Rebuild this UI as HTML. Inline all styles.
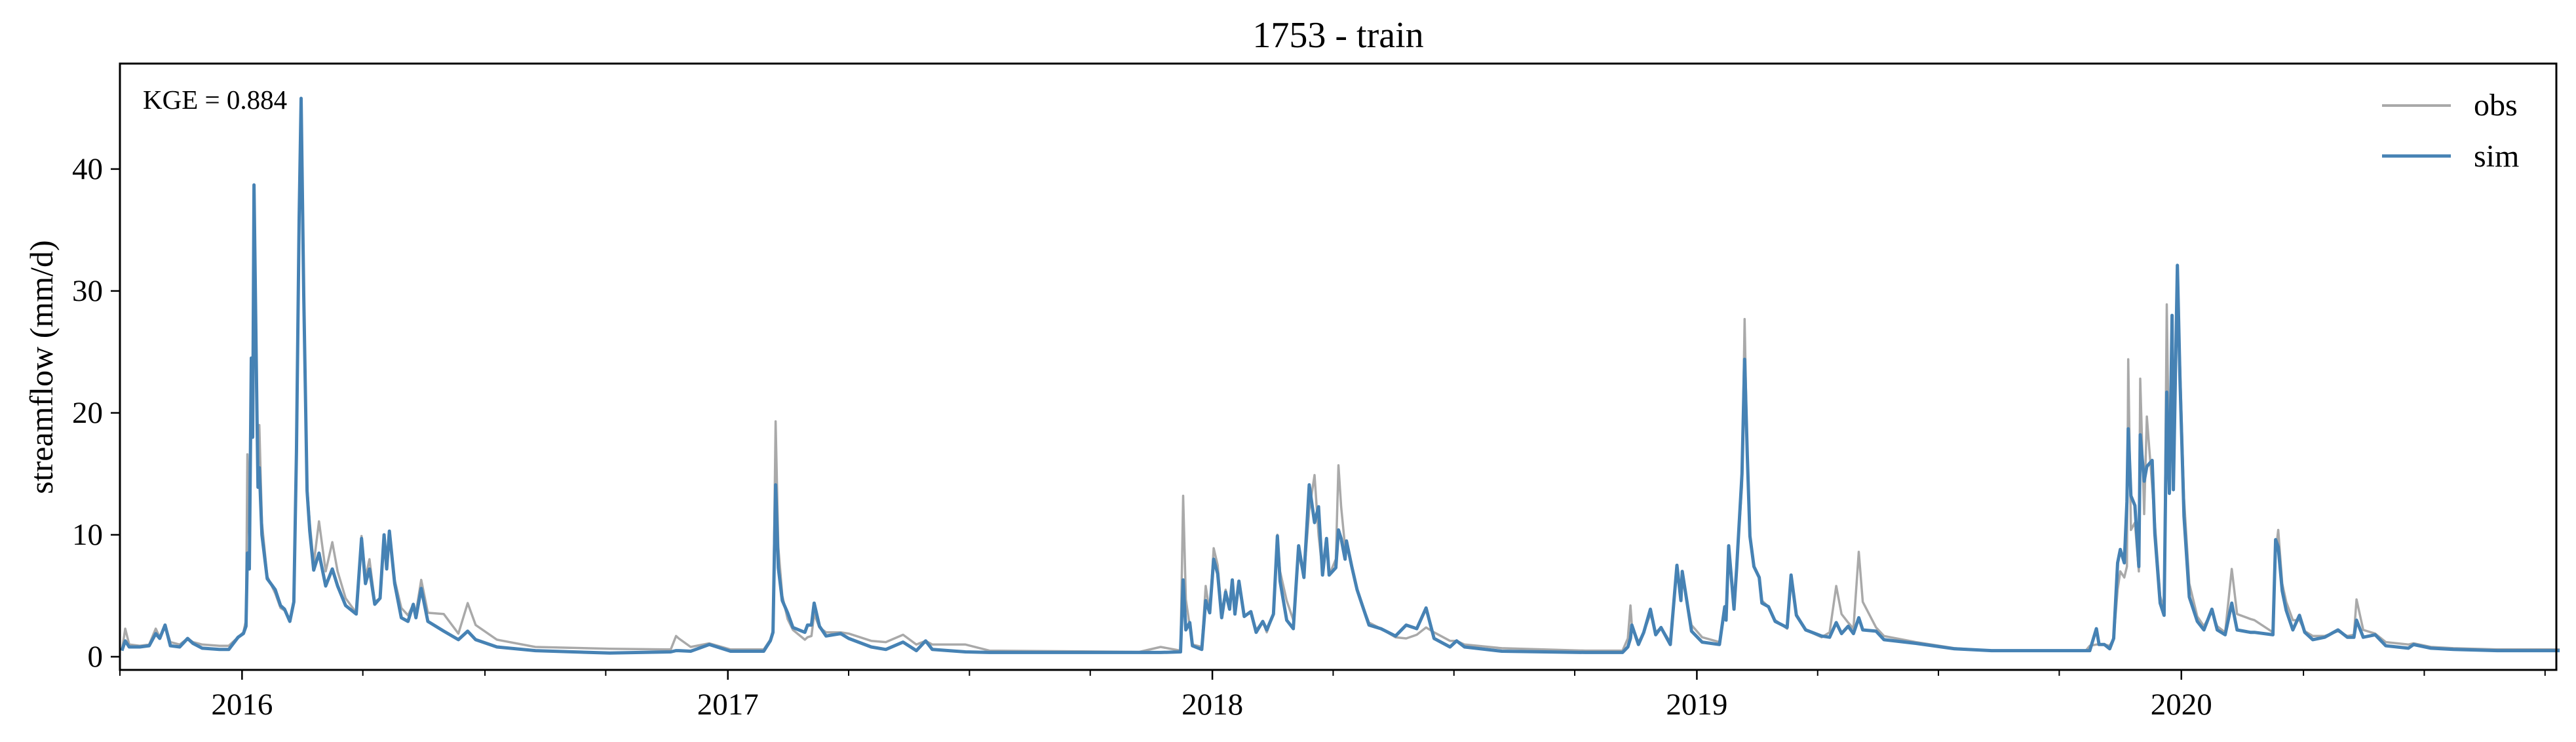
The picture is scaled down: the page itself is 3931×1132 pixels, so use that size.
<!DOCTYPE html>
<html><head><meta charset="utf-8"><style>
html,body{margin:0;padding:0;background:#fff;}
svg{display:block;font-family:"Liberation Serif","DejaVu Serif",serif;}
</style></head><body>
<svg id="chart" width="3931" height="1132" viewBox="0 0 3931 1132" xmlns="http://www.w3.org/2000/svg">
<rect width="3931" height="1132" fill="#fff"/>
<text x="2042" y="72" font-size="56" text-anchor="middle">1753 - train</text>
<text transform="translate(80,560) rotate(-90)" font-size="50" text-anchor="middle">streamflow (mm/d)</text>
<g id="plot"></g>
<g id="axes"></g>
<text x="218" y="166" font-size="41">KGE = 0.884</text>
<g>
  <line x1="3635" y1="161" x2="3740" y2="161" stroke="#a9a9a9" stroke-width="4"/>
  <text x="3775" y="176" font-size="48">obs</text>
  <line x1="3635" y1="238" x2="3740" y2="238" stroke="#4682b4" stroke-width="5"/>
  <text x="3775" y="254" font-size="48">sim</text>
</g>
</svg>
<script>
// day offsets from 2015-10-01
const days=[1.5,4,7,15,22,27,30,34,38,45,51,55,62,75,82,89,93,95,96,97.5,99,100,101,103,104,105,107,111,117,121,124,128,131,133,135,136.5,138.5,141,143,146,150,155,160,164,170,178,182,185,188,192,196,199,201,203,207,212,217,221,223,227,232,244,255,262,268,284,313,369,415,419,421,430,444,460,485,490,492,494,496,499,503,507,516,518,521,523,527,532,543,549,566,577,590,600,607,612,637,655,768,784,799,801,803,806,808,815,818,821,824,827,830,833,836,838,840,843,847,852,856,861,864,869,872,874,879,884,888,892,896,900,903,906,909,911,916,918,920,923,924,928,932,936,941,950,961,969,977,984,990,1002,1007,1013,1041,1104,1132,1136,1138,1139,1144,1148,1153,1157,1161,1168,1173,1176,1177,1184,1192,1205,1209,1210,1212,1216,1218,1222,1224,1226,1228,1231,1235,1237,1242,1247,1256,1259,1263,1270,1282,1288,1293,1297,1302,1306,1310,1313,1323,1329,1353,1382,1410,1481,1484,1489,1491,1495,1499,1502,1505,1507,1510,1512,1513,1515,1518,1521,1522,1525,1527,1531,1533,1537,1540,1542,1544,1546,1547,1550,1552,1555,1559,1565,1570,1576,1580,1586,1591,1595,1605,1608,1622,1624,1626,1629,1632,1637,1642,1646,1652,1661,1671,1678,1683,1685,1690,1699,1707,1724,1728,1741,1758,1791,1838];
const simValues=[0.5,1.3,0.8,0.8,0.9,1.9,1.5,2.6,0.9,0.8,1.5,1.1,0.7,0.6,0.6,1.6,1.9,2.5,8.5,7.2,24.5,18,38.7,22,13.9,15.5,10,6.4,5.5,4.2,3.9,2.9,4.5,16.8,36,45.8,29.7,13.6,10.3,7.1,8.5,5.8,7.2,5.8,4.2,3.5,9.7,6,7.2,4.3,4.8,10,7.2,10.3,6,3.2,2.9,4.3,3.2,5.6,2.9,2.1,1.4,2.1,1.4,0.8,0.5,0.3,0.4,0.5,0.5,0.45,1.0,0.45,0.45,1.3,2.0,14.1,7.3,4.6,3.6,2.4,2.0,2.6,2.6,4.4,2.5,1.7,1.9,1.5,0.8,0.6,1.2,0.5,1.3,0.6,0.4,0.35,0.35,0.35,0.4,6.3,2.2,2.8,0.9,0.6,4.6,3.6,8.0,6.8,3.2,5.3,3.9,6.3,3.5,6.2,3.3,3.7,2.0,2.9,2.2,3.5,9.9,6.2,3.0,2.3,9.1,6.5,14.1,11,12.3,6.7,9.7,6.7,7.3,10.4,9.7,8.0,9.5,7.4,5.5,4.2,2.6,2.3,1.7,2.6,2.3,4.0,1.5,0.8,1.3,0.8,0.45,0.35,0.35,0.8,1.5,2.6,1.0,2.0,3.9,1.8,2.4,1.0,7.5,4.6,7.0,2.1,1.2,1.0,4.1,3.0,9.1,3.9,7.3,15,24.4,16.5,9.9,7.4,6.5,4.4,4.1,2.9,2.4,6.7,3.4,2.2,1.7,1.6,2.8,1.9,2.5,1.9,3.2,2.2,2.1,1.4,1.1,0.65,0.5,0.5,0.5,2.3,1.0,1.0,0.65,1.5,7.7,8.8,7.7,12.7,18.7,13.2,12.4,7.4,18.2,14.4,15.6,16.1,10.1,4.4,3.4,21.7,13.4,28.0,13.7,32.1,22.7,11.5,4.9,2.9,2.2,3.9,2.2,1.8,4.4,2.2,2.0,2.0,1.8,9.6,9.0,5.4,3.8,2.2,3.4,2.0,1.4,1.6,2.2,1.6,1.6,3.0,1.6,1.8,0.9,0.7,1.0,0.7,0.6,0.5,0.5];
const obsValues=[0.5,2.3,1.0,0.9,1.0,2.3,1.6,2.6,1.2,1.0,1.5,1.2,1.0,0.9,0.9,1.6,2.0,3,16.6,9,23,20,30,22,17,19,11,6.6,5.2,4.0,3.8,2.9,4.5,17,36,45,30,14,11,7.6,11.1,7,9.4,7,4.8,3.6,9.9,6.5,8,4.5,4.8,9.8,7.5,10.3,6.3,4.0,3.4,4.3,3.6,6.3,3.6,3.5,1.9,4.4,2.6,1.4,0.8,0.65,0.6,1.7,1.5,0.8,1.1,0.6,0.6,1.4,2.2,19.3,9,5,3.1,2.2,1.4,1.6,1.7,3.5,2.4,2.0,2.0,1.9,1.3,1.2,1.8,1.0,1.3,1.0,1.0,0.5,0.4,0.8,0.5,13.2,4.7,2.5,1.0,0.8,5.8,3.6,8.9,7.5,3.5,5.5,4.0,6.0,3.5,6.2,3.3,3.7,2.2,2.9,2.0,3.5,10,7,4.6,3.0,8.5,6.5,12,14.9,10,7,9.5,6.7,8,15.7,12.3,9,9.5,7.4,5.5,4.2,2.8,2.3,1.6,1.5,1.8,2.4,2.0,1.3,1.3,1.0,0.7,0.5,0.5,1.5,4.2,2.6,1.2,2.0,3.5,2.0,2.4,1.2,7.0,5,6.5,2.6,1.6,1.2,4.0,3.0,9.0,4.0,7.5,14,27.7,16,10,7.4,6.5,4.6,4.1,3.0,2.3,6.5,3.5,2.2,1.6,2.0,5.8,3.5,2.8,2.3,8.6,4.5,2.4,1.7,1.2,0.7,0.5,0.5,0.9,1.0,1.0,1.0,0.9,1.5,5.5,7,6.5,7.4,24.4,10.4,11,7,22.8,11.7,19.7,14,11,5,3.8,28.9,14,27,14,31,24,13,6,3.3,2.5,3.7,2.5,2.0,7.2,3.5,3.1,3.0,2.0,8.5,10.4,6,4.5,3.0,3.0,2.1,1.7,1.7,2.1,1.7,1.8,4.7,2.2,1.9,1.2,1.0,1.1,0.8,0.7,0.6,0.6];
const yTicks=[0,10,20,30,40];
const yearLabels=["2016","2017","2018","2019","2020"];
const yearDays=[92,458,823,1188,1553];
const quarterDays=[0,183,275,366,549,640,731,914,1005,1096,1279,1370,1461,1645,1736,1827];

const X0=183,X1=3901,Y0=97,Y1=1022,DMAX=1835.5,YMIN=-1.08,YMAX=48.65;
const xs=d=>X0+(d/DMAX)*(X1-X0);
const ys=v=>Y1-((v-YMIN)/(YMAX-YMIN))*(Y1-Y0);
const NS="http://www.w3.org/2000/svg";
const plot=document.getElementById('plot'),axes=document.getElementById('axes');
function mk(tag,attrs,parent){const e=document.createElementNS(NS,tag);for(const k in attrs)e.setAttribute(k,attrs[k]);parent.appendChild(e);return e;}
function series(vals){return days.map((d,i)=>xs(d).toFixed(1)+','+ys(vals[i]).toFixed(1)).join(' ');}
const obsLine=mk('polyline',{points:series(obsValues),fill:'none',stroke:'#a9a9a9','stroke-width':3.5,'stroke-linejoin':'round'},plot);


const simLine=mk('polyline',{points:series(simValues),fill:'none',stroke:'#4682b4','stroke-width':5,'stroke-linejoin':'round'},plot);


const frame=mk('rect',{x:X0,y:Y0,width:X1-X0,height:Y1-Y0,fill:'none',stroke:'#000','stroke-width':3},axes);


yTicks.forEach(v=>{
  const t=mk('line',{x1:X0-14,x2:X0,y1:ys(v),y2:ys(v),stroke:'#000','stroke-width':2.5},axes);
  
  
  const l=mk('text',{x:X0-26,y:ys(v)+15,'font-size':47,'text-anchor':'end'},axes);
  l.textContent=v;
  
  
});
quarterDays.forEach(d=>{
  const t=mk('line',{x1:xs(d),x2:xs(d),y1:Y1,y2:Y1+9,stroke:'#000','stroke-width':2},axes);
  
  
});
yearDays.forEach((d,i)=>{
  const t=mk('line',{x1:xs(d),x2:xs(d),y1:Y1,y2:Y1+15,stroke:'#000','stroke-width':2.5},axes);
  
  
  const l=mk('text',{x:xs(d),y:1090,'font-size':47,'text-anchor':'middle'},axes);
  l.textContent=yearLabels[i];
  
  
});
</script>
</body></html>
